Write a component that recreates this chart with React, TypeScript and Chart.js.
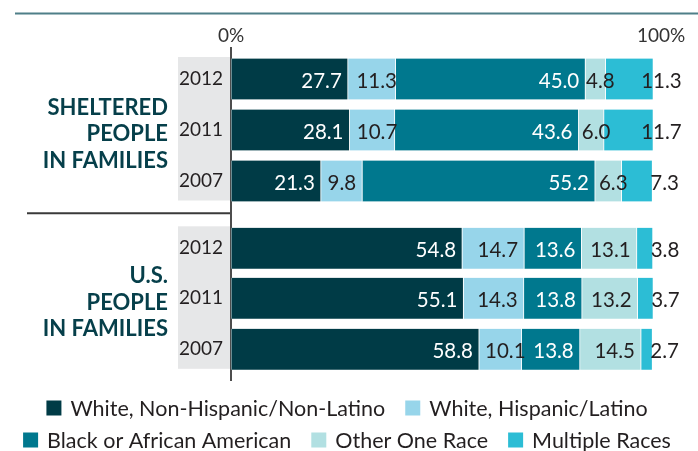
import React, { useEffect, useRef } from "react";
import { Chart, registerables } from "chart.js";

Chart.register(...registerables);

const yearLabels = ["2012", "2011", "2007", "2012", "2011", "2007"];
const rowPositions = [0, 1, 2, 3.32, 4.3, 5.3];
const groupLabels = [["SHELTERED", "PEOPLE", "IN FAMILIES"], ["U.S.", "PEOPLE", "IN FAMILIES"]];
const seriesNames = [
  "White, Non-Hispanic/Non-Latino",
  "White, Hispanic/Latino",
  "Black or African American",
  "Other One Race",
  "Multiple Races",
];
const whiteNonHispanic = [27.7, 28.1, 21.3, 54.8, 55.1, 58.8];
const whiteHispanic = [11.3, 10.7, 9.8, 14.7, 14.3, 10.1];
const blackAfrican = [45.0, 43.6, 55.2, 13.6, 13.8, 13.8];
const otherOneRace = [4.8, 6.0, 6.3, 13.1, 13.2, 14.5];
const multipleRaces = [11.3, 11.7, 7.3, 3.8, 3.7, 2.7];
const seriesValues = [whiteNonHispanic, whiteHispanic, blackAfrican, otherOneRace, multipleRaces];
const seriesColors = ["#003b46", "#97d5ea", "#00788e", "#b2e0e2", "#2cbdd5"];
const labelColors = ["#ffffff", "#231f20", "#ffffff", "#231f20", "#231f20"];
const axisTickValues = [0, 102];
const axisTickLabels = ["0%", "100%"];

const FONT = "Lato, 'Open Sans', sans-serif";

const decorPlugin = {
  id: "decor",
  beforeDraw(chart: any) {
    const ctx = chart.ctx;
    ctx.save();
    // top rule
    ctx.strokeStyle = "#4f7f88";
    ctx.lineWidth = 2;
    ctx.beginPath();
    ctx.moveTo(15, 13.5);
    ctx.lineTo(698, 13.5);
    ctx.stroke();
    // gray category panels
    const meta = chart.getDatasetMeta(0);
    const left = chart.chartArea.left;
    ctx.fillStyle = "#e6e7e8";
    [[0, 2], [3, 5]].forEach(([a, b]) => {
      const top = meta.data[a].y - meta.data[a].height / 2 - 1.5;
      const bottom = meta.data[b].y + meta.data[b].height / 2 - 1;
      ctx.fillRect(178, top, left - 1 - 178, bottom - top);
    });
    // separator
    const sepY = (meta.data[2].y + meta.data[3].y) / 2 - 1.5;
    ctx.strokeStyle = "#3a3a3a";
    ctx.lineWidth = 2;
    ctx.beginPath();
    ctx.moveTo(27, sepY);
    ctx.lineTo(left, sepY);
    ctx.stroke();
    ctx.restore();
  },
  afterDatasetsDraw(chart: any) {
    const ctx = chart.ctx;
    ctx.save();
    ctx.font = `20.5px ${FONT}`;
    ctx.textBaseline = "middle";
    const n = chart.data.datasets.length;
    chart.data.datasets.forEach((ds: any, d: number) => {
      const meta = chart.getDatasetMeta(d);
      meta.data.forEach((bar: any, i: number) => {
        const v = seriesValues[d][i];
        const text = v.toFixed(1);
        const x0 = bar.base;
        const x1 = bar.x;
        const segW = x1 - x0;
        const w = ctx.measureText(text).width;
        ctx.fillStyle = labelColors[d];
        const y = bar.y + 2;
        if (d === n - 1) {
          ctx.textAlign = "left";
          ctx.fillStyle = "#231f20";
          ctx.fillText(text, x1 - (segW > 40 ? 12 : 2), y);
        } else if (w + 10 <= segW) {
          ctx.textAlign = "right";
          ctx.fillText(text, x1 - 6, y);
        } else {
          ctx.textAlign = "center";
          ctx.fillStyle = "#231f20";
          ctx.fillText(text, (x0 + x1) / 2 + 5, y);
        }
      });
    });
    ctx.restore();
  },
  afterDraw(chart: any) {
    const ctx = chart.ctx;
    ctx.save();
    // group labels
    const meta = chart.getDatasetMeta(0);
    ctx.font = `bold 22px ${FONT}`;
    ctx.fillStyle = "#063f4a";
    ctx.textAlign = "right";
    ctx.textBaseline = "middle";
    [[0, 2], [3, 5]].forEach(([a, b], g) => {
      const center = (meta.data[a].y + meta.data[b].y) / 2 + 3;
      const lines = groupLabels[g];
      lines.forEach((line, k) => {
        ctx.fillText(line, 168, center + (k - (lines.length - 1) / 2) * 26.5 + 1);
      });
    });
    // legend
    const rows = [[0, 1], [2, 3, 4]];
    const rowY = [408, 440];
    const box = 15;
    const gapText = 9;
    const gapItem = 20;
    ctx.font = `21.5px ${FONT}`;
    ctx.textAlign = "left";
    rows.forEach((row, r) => {
      const widths = row.map((d) => box + gapText + ctx.measureText(chart.data.datasets[d].label).width);
      const total = widths.reduce((s, w) => s + w, 0) + gapItem * (row.length - 1);
      let x = 347 - total / 2;
      row.forEach((d, k) => {
        ctx.fillStyle = seriesColors[d];
        ctx.fillRect(x, rowY[r] - box / 2, box, box);
        ctx.fillStyle = "#231f20";
        ctx.fillText(chart.data.datasets[d].label, x + box + gapText, rowY[r] + 1);
        x += widths[k] + gapItem;
      });
    });
    ctx.restore();
  },
};

export default function App() {
  const ref = useRef<HTMLCanvasElement | null>(null);
  useEffect(() => {
    document.body.style.margin = "0";
    const canvas = ref.current!;
    const chart = new Chart(canvas, {
      type: "bar",
      data: {
        datasets: seriesNames.map((name, d) => ({
          label: name,
          data: seriesValues[d].map((v, i) => ({ x: v, y: rowPositions[i] })),
          backgroundColor: seriesColors[d],
          borderColor: "#ffffff",
          borderWidth: { left: 0.75, right: 0.75, top: 0, bottom: 0 },
          borderSkipped: false,
          barThickness: 41,
        })),
      },
      options: {
        indexAxis: "y",
        animation: false,
        responsive: false,
        devicePixelRatio: 1,
        layout: { padding: { left: 0, top: 0, right: 36, bottom: 71 } },
        plugins: { legend: { display: false }, tooltip: { enabled: false } },
        scales: {
          x: {
            type: "linear",
            position: "top",
            stacked: true,
            min: 0,
            max: 102.2,
            offset: false,
            grid: { display: false, drawTicks: false },
            border: { display: false },
            afterFit: (scale: any) => {
              scale.height = 48;
            },
            afterBuildTicks: (scale: any) => {
              scale.ticks = axisTickValues.map((v) => ({ value: v }));
            },
            ticks: {
              padding: 1,
              autoSkip: false,
              maxRotation: 0,
              color: "#333333",
              font: { family: FONT, size: 19 },
              callback: (v: any) => axisTickLabels[axisTickValues.indexOf(Number(v))],
            },
          },
          y: {
            type: "linear",
            stacked: true,
            reverse: true,
            offset: false,
            min: -0.608,
            max: 5.902,
            grid: { display: false, drawTicks: false, offset: false },
            border: { display: true, color: "#4d4d4d", width: 2 },
            afterFit: (scale: any) => {
              scale.width = 231;
            },
            afterBuildTicks: (scale: any) => {
              scale.ticks = rowPositions.map((v) => ({ value: v }));
            },
            ticks: {
              padding: 8,
              autoSkip: false,
              color: "#231f20",
              font: { family: FONT, size: 19 },
              callback: (v: any) => yearLabels[rowPositions.indexOf(Number(v))],
            },
          },
        },
      },
      plugins: [decorPlugin],
    } as any);
    return () => chart.destroy();
  }, []);
  return (
    <div style={{ position: "absolute", left: 0, top: 0, width: 698, height: 451 }}>
      <canvas ref={ref} width={698} height={451} style={{ width: 698, height: 451 }} />
    </div>
  );
}
